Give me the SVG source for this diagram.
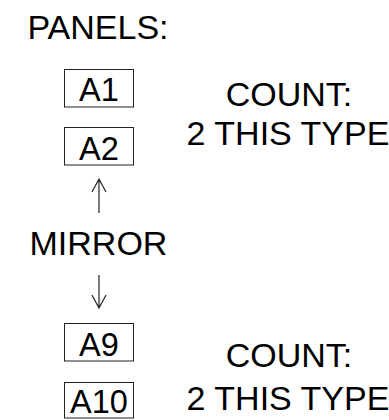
<svg xmlns="http://www.w3.org/2000/svg" width="389" height="420" viewBox="0 0 389 420">
  <style>
    text { font-family: "Liberation Sans", Arial, sans-serif; font-size: 34px; fill: #000; text-anchor: middle; }
    .lbl { font-size: 32.5px; }
    .box { fill: #fff; stroke: #222; stroke-width: 1; }
    .conn { fill: none; stroke: #222; stroke-width: 1.2; }
  </style>
  <rect width="389" height="420" fill="#fff"/>
  <g id="title"><text x="98" y="38.5">PANELS:</text></g>
  <g id="A1"><rect class="box" x="64.5" y="69.5" width="69" height="37.5"/><text class="lbl" x="99" y="101">A1</text></g>
  <g id="A2"><rect class="box" x="64.5" y="127.5" width="69" height="37.5"/><text class="lbl" x="99" y="159.5">A2</text></g>
  <g id="count1"><text x="289" y="106">COUNT:</text><text x="288" y="145">2 THIS TYPE</text></g>
  <g id="mirror"><text x="98.5" y="255">MIRROR</text></g>
  <g id="A9"><rect class="box" x="64.5" y="323.5" width="69" height="37.5"/><text class="lbl" x="99" y="355.5">A9</text></g>
  <g id="A10"><rect class="box" x="64.5" y="382.5" width="69" height="35.5"/><text class="lbl" x="99" y="413">A10</text></g>
  <g id="count2"><text x="289" y="367">COUNT:</text><text x="288" y="410">2 THIS TYPE</text></g>
  <g id="connectors">
    <path class="conn" d="M99 213 V179 M92 192 L99 179 L106 192"/>
    <path class="conn" d="M99 275 V308 M92 295 L99 308 L106 295"/>
  </g>
</svg>
